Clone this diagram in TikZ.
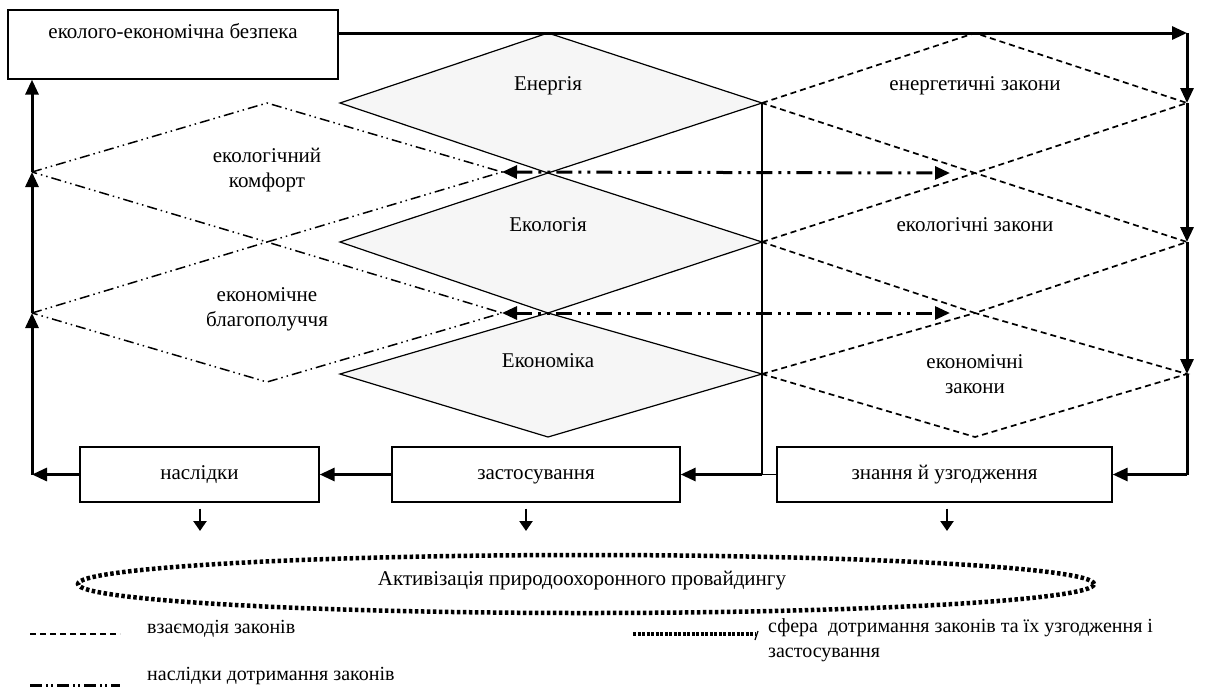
\documentclass[tikz,border=0pt]{standalone}
\usepackage{fontspec}
\setmainfont{Liberation Serif}
\usetikzlibrary{arrows.meta,shapes.geometric}
\tikzset{
  txt/.style={font=\fontsize{21}{25}\selectfont, inner sep=0pt, align=center},
  legtxt/.style={font=\fontsize{20}{25}\selectfont, inner sep=0pt, anchor=base west},
  boxnode/.style={draw, line width=1.3pt, inner sep=0pt},
  boxtxt/.style={text height=14pt, text depth=4pt},
  soliddia/.style={line width=1.2pt},
  diafill/.style={fill=gray!7},
  lawline/.style={line width=1.7pt, dash pattern=on 6pt off 4pt},
  conseq/.style={line width=1.5pt, dash pattern=on 10pt off 4pt on 1.5pt off 4pt on 1.5pt off 4pt},
  bigline/.style={line width=3pt},
  bigarrow/.style={line width=3pt, -{Triangle[length=15pt,width=13pt]}},
  dblarrow/.style={line width=3pt, dash pattern=on 16pt off 6pt on 3pt off 6pt on 3pt off 6pt,
     {Triangle[length=15pt,width=13pt]}-{Triangle[length=15pt,width=13pt]}},
  smallarrow/.style={line width=2.4pt, -{Triangle[length=10pt,width=13pt]}},
  sphere/.style={line width=4.5pt, dash pattern=on 3.5pt off 2.5pt},
  thinline/.style={line width=1.5pt}
}
\begin{document}
\begin{tikzpicture}[x=1pt,y=-1pt]
\useasboundingbox (0,0) rectangle (1220,689);
% coordinates of diamonds
\coordinate (EnL) at (340,103); \coordinate (EnT) at (548,33);  \coordinate (EnR) at (762,103); \coordinate (EnB) at (548,173);
\coordinate (EcL) at (340,242); \coordinate (EcR) at (762,242); \coordinate (EcB) at (548,313);
\coordinate (MoL) at (340,374); \coordinate (MoR) at (762,374); \coordinate (MoB) at (548,437);
\coordinate (LEnT) at (975,33); \coordinate (LEnR) at (1187,103); \coordinate (LEnB) at (975,173);
\coordinate (LEcR) at (1187,242); \coordinate (LEcB) at (975,313);
\coordinate (LMoR) at (1187,374); \coordinate (LMoB) at (975,437);
\coordinate (CL) at (32,172); \coordinate (CT) at (267,103); \coordinate (CR) at (502,172); \coordinate (CB) at (267,242);
\coordinate (WL) at (32,313); \coordinate (WR) at (502,313); \coordinate (WB) at (267,382);
% fills
\fill[diafill] (EnL) -- (EnT) -- (EnR) -- (EnB) -- cycle;
\fill[diafill] (EcL) -- (EnB) -- (EcR) -- (EcB) -- cycle;
\fill[diafill] (MoL) -- (EcB) -- (MoR) -- (MoB) -- cycle;
% solid diamonds
\draw[soliddia] (EnL) -- (EnT) -- (EnR) -- (EnB) -- cycle;
\draw[soliddia] (EcL) -- (EnB) -- (EcR) -- (EcB) -- cycle;
\draw[soliddia] (MoL) -- (EcB) -- (MoR) -- (MoB) -- cycle;
% law diamonds
\draw[lawline] (EnR) -- (LEnT) -- (LEnR) -- (LEnB) -- cycle;
\draw[lawline] (EcR) -- (LEnB) -- (LEcR) -- (LEcB) -- cycle;
\draw[lawline] (MoR) -- (LEcB) -- (LMoR) -- (LMoB) -- cycle;
% consequence diamonds
\draw[conseq] (CL) -- (CT) -- (CR) -- (CB) -- cycle;
\draw[conseq] (WL) -- (CB) -- (WR) -- (WB) -- cycle;
% diamond labels
\node[txt, boxtxt] (en) at (548,85) {Енергія};
\node[txt, boxtxt] (ec) at (548,226) {Екологія};
\node[txt, boxtxt] (mo) at (548,362) {Економіка};
\node[txt, boxtxt] (len) at (975,85) {енергетичні закони};
\node[txt, boxtxt] (lec) at (975,226) {екологічні закони};
\node[txt] (lmo) at (975,374) {економічні\\закони};
\node[txt] (com) at (267,170) {екологічний\\комфорт};
\node[txt] (wel) at (267,309) {економічне\\благополуччя};
% boxes
\node[boxnode, minimum width=330pt, minimum height=69pt] (eeb) at (173,44.5) {};
\node[txt, boxtxt] (eebt) at (173,33) {еколого-економічна безпека};
\node[boxnode, txt, boxtxt, minimum width=239pt, minimum height=55pt] (nas) at (199.5,474.5) {наслідки};
\node[boxnode, txt, boxtxt, minimum width=288pt, minimum height=55pt] (zas) at (536,474.5) {застосування};
\node[boxnode, txt, boxtxt, minimum width=335pt, minimum height=55pt] (zn) at (944.5,474.5) {знання й узгодження};
% helper coordinates
\coordinate (TR) at (1187,33);
\coordinate (BR) at (1187,474.5);
\coordinate (BL) at (32,474.5);
\coordinate (J) at (762,474.5);
% top and right thick path
\draw[bigarrow] (eeb.east |- eebt) -- (TR);
\draw[bigarrow] (TR) -- (LEnR);
\draw[bigarrow] (LEnR) -- (LEcR);
\draw[bigarrow] (LEcR) -- (LMoR);
\draw[bigline] (LMoR) -- (BR);
\draw[bigarrow] (BR) -- (zn.east);
% middle
\draw[thinline] (EnR) -- (J) -- (zn.west);
\draw[bigarrow] (J) -- (zas.east);
\draw[bigarrow] (zas.west) -- (nas.east);
% left path
\draw[bigarrow] (nas.west) -- (BL);
\draw[bigarrow] (BL) -- (WL);
\draw[bigarrow] (WL) -- (CL);
\draw[bigarrow] (CL) -- (eeb.south -| CL);
% ellipse
\node[sphere, draw, ellipse, minimum width=1016pt, minimum height=58pt, inner sep=0pt] (sph) at (586,584) {};
\node[txt, boxtxt] (spht) at (582,580) {Активізація природоохоронного провайдингу};
% down arrows
\coordinate (D1) at (200,531); \coordinate (D2) at (526,531); \coordinate (D3) at (947,531);
\draw[smallarrow] ([yshift=-6pt]nas.south -| D1) -- (D1);
\draw[smallarrow] ([yshift=-6pt]zas.south -| D2) -- (D2);
\draw[smallarrow] ([yshift=-6pt]zn.south -| D3) -- (D3);
% double arrows
\coordinate (A1) at (950,173); \coordinate (A2) at (950,313);
\draw[dblarrow] (CR) -- (A1);
\draw[dblarrow] (WR) -- (A2);
% legend
\coordinate (L1a) at (30,634); \coordinate (L1b) at (120,634);
\coordinate (L2a) at (30,685); \coordinate (L2b) at (120,685);
\coordinate (L3a) at (633,634); \coordinate (L3b) at (755,634);
\coordinate (L3c) at (758,631); \coordinate (L3d) at (755,640);
\draw[line width=2.5pt, dash pattern=on 6pt off 4pt] (L1a) -- (L1b);
\draw[line width=3pt, dash pattern=on 12pt off 4pt on 2pt off 3pt on 2pt off 4pt] (L2a) -- (L2b);
\draw[line width=4.5pt, dash pattern=on 3pt off 1.5pt] (L3a) -- (L3b);
\draw[line width=1.2pt] (L3c) -- (L3d);
\node[legtxt] (lg1) at (147,633) {взаємодія законів};
\node[legtxt] (lg2) at (147,680) {наслідки дотримання законів};
\node[legtxt] (lg3) at (768,632) {сфера\ \ дотримання законів та їх узгодження і};
\node[legtxt] (lg4) at (768,657) {застосування};
\end{tikzpicture}
\end{document}
